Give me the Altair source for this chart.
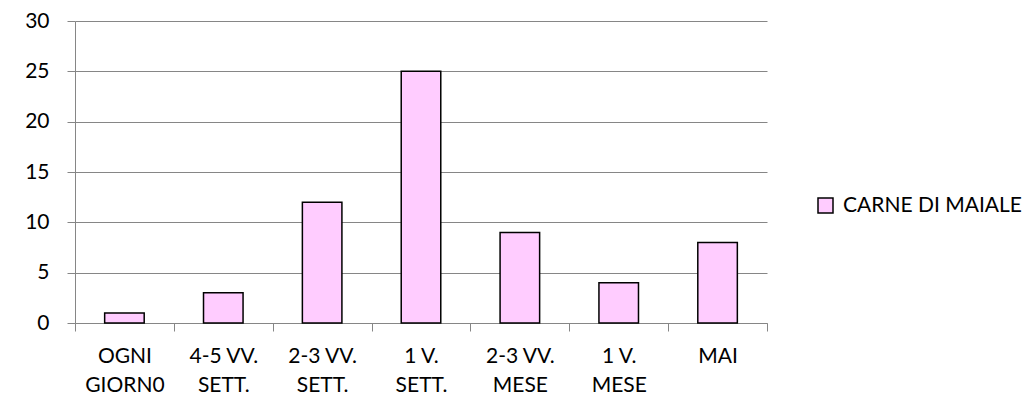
import altair as alt
import pandas as pd

categories = ["OGNI|GIORN0", "4-5 VV.|SETT.", "2-3 VV.|SETT.", "1 V.|SETT.", "2-3 VV.|MESE", "1 V.|MESE", "MAI"]
values = [1, 3, 12, 25, 9, 4, 8]
series = "CARNE DI MAIALE"
y_ticks = [0, 5, 10, 15, 20, 25, 30]

df = pd.DataFrame({"cat": categories, "val": values, "series": [series] * len(categories)})

FONT = "Lato"
GRID = "#868686"
FS = 21

chart = alt.Chart(df).mark_bar(
    width=alt.RelativeBandSize(0.4), stroke="black", strokeWidth=1.5
).encode(
    x=alt.X("cat:N", sort=categories, title=None,
            scale=alt.Scale(paddingInner=0, paddingOuter=0),
            axis=alt.Axis(labelAngle=0, labelExpr="split(datum.label, '|')",
                          tickBand="extent", tickSize=8, tickColor=GRID,
                          domainColor=GRID, labelPadding=14, labelFontSize=FS,
                          labelLineHeight=29, labelFont=FONT, labelColor="black",
                          grid=False)),
    y=alt.Y("val:Q", title=None,
            scale=alt.Scale(domain=[0, 30], nice=False),
            axis=alt.Axis(values=y_ticks, tickSize=8, tickColor=GRID, domainColor=GRID,
                          gridColor=GRID, labelPadding=18, labelFontSize=FS,
                          labelFont=FONT, labelColor="black")),
    color=alt.Color("series:N", title=None,
                    scale=alt.Scale(range=["#FFCCFF"]),
                    legend=alt.Legend(orient="none", legendX=740, legendY=174,
                                      symbolType="square", symbolSize=225,
                                      symbolStrokeColor="black", symbolStrokeWidth=1.5,
                                      labelFontSize=FS, labelFont=FONT, labelColor="black",
                                      labelLimit=0, padding=0, labelOffset=7)),
).properties(
    width=692, height=302,
    padding={"left": 67, "top": 13, "right": 260, "bottom": 73},
    autosize=alt.AutoSizeParams(type="none"),
).configure_view(stroke=None).configure_axis(gridWidth=1, domainWidth=1)

chart.save("out.html", embed_options={"renderer": "svg", "actions": False})
